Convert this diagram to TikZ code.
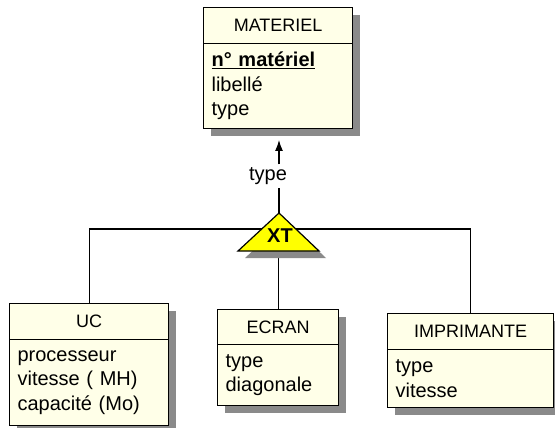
\documentclass[tikz,border=0pt]{standalone}
\usepackage{fontspec}
\setmainfont{Liberation Sans}
\usetikzlibrary{shadows,arrows.meta}

\definecolor{entfill}{RGB}{255,255,232}
\definecolor{shadowgray}{RGB}{138,138,138}
\definecolor{xtfill}{RGB}{255,255,0}

\tikzstyle{shad}=[drop shadow={shadow xshift=7pt, shadow yshift=-7pt, fill=shadowgray, opacity=1}]
\tikzstyle{ename}=[draw, line width=1.2pt, fill=entfill, shad, anchor=north west, inner sep=0pt, font=\fontsize{18}{20}\selectfont]
\tikzstyle{eattr}=[draw, line width=1.2pt, fill=entfill, shad, anchor=north west, inner xsep=8pt, inner ysep=0pt, align=left, font=\fontsize{20}{24.5}\selectfont]
\tikzstyle{link}=[line width=1.2pt]

\begin{document}
\begin{tikzpicture}[x=1pt, y=-1pt]
  \useasboundingbox[fill=white] (0,0) rectangle (555,428);

  % links under the triangle
  \coordinate (bar) at (279,229);
  \coordinate (apex) at (279,213);
  \coordinate (tip) at (279,140);

  % entities
  \node[ename, minimum width=149pt, minimum height=36pt] (mat) at (203,7) {MATERIEL};
  \node[eattr, text width=133pt, minimum height=85pt] (matattr) at (203,43) {\underline{\textbf{n° matériel}}\\libellé\\type};

  \node[ename, minimum width=159pt, minimum height=36pt] (uc) at (9,303) {UC};
  \node[eattr, text width=143pt, minimum height=86pt] (ucattr) at (9,339) {processeur\\vitesse ( MH)\\capacité (Mo)};

  \node[ename, minimum width=121pt, minimum height=35pt] (ecr) at (217,309) {ECRAN};
  \node[eattr, text width=105pt, minimum height=61pt] (ecrattr) at (217,344) {type\\diagonale};

  \node[ename, minimum width=166pt, minimum height=36pt] (imp) at (387,313) {IMPRIMANTE};
  \node[eattr, text width=150pt, minimum height=58pt] (impattr) at (387,349) {type\\vitesse};

  \draw[link] (uc.north) -- (uc.north |- bar) -- (imp.north |- bar) -- (imp.north);
  \draw[link] (ecr.north) -- (ecr.north |- bar);

  % XT
  \filldraw[link, fill=xtfill, shad] (238,251) -- (apex) -- (319,251) -- cycle;
  \node[font=\fontsize{20}{22}\selectfont\bfseries] (xt) at (280,236) {XT};

  \node[font=\fontsize{20}{22}\selectfont, inner ysep=3pt] (gen) at (268,176) {type};
  \draw[link] (apex) -- (apex |- gen.south);
  \draw[link, -{Latex[length=11pt,width=8pt]}] (apex |- gen.north) -- (tip);
\end{tikzpicture}
\end{document}
